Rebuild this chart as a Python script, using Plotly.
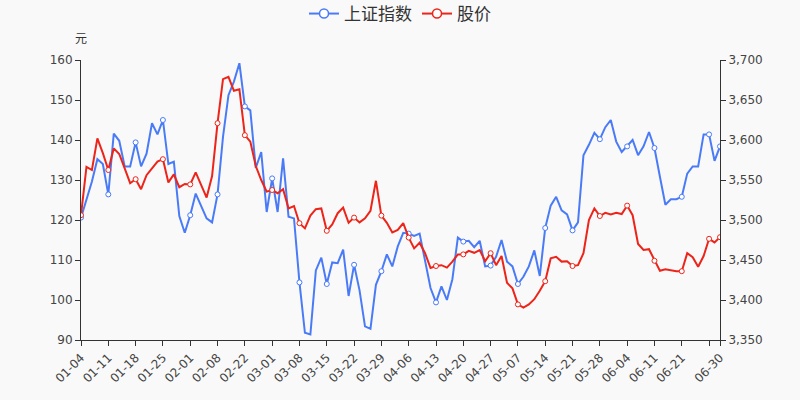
import plotly.graph_objects as go

dates = [
    "01-04","01-05","01-06","01-07","01-08","01-11","01-12","01-13","01-14","01-15",
    "01-18","01-19","01-20","01-21","01-22","01-25","01-26","01-27","01-28","01-29",
    "02-01","02-02","02-03","02-04","02-05","02-08","02-09","02-10","02-18","02-19",
    "02-22","02-23","02-24","02-25","02-26","03-01","03-02","03-03","03-04","03-05",
    "03-08","03-09","03-10","03-11","03-12","03-15","03-16","03-17","03-18","03-19",
    "03-22","03-23","03-24","03-25","03-26","03-29","03-30","03-31","04-01","04-02",
    "04-06","04-07","04-08","04-09","04-12","04-13","04-14","04-15","04-16","04-19",
    "04-20","04-21","04-22","04-23","04-26","04-27","04-28","04-29","04-30","05-06",
    "05-07","05-10","05-11","05-12","05-13","05-14","05-17","05-18","05-19","05-20",
    "05-21","05-24","05-25","05-26","05-27","05-28","05-31","06-01","06-02","06-03",
    "06-04","06-07","06-08","06-09","06-10","06-11","06-15","06-16","06-17","06-18",
    "06-21","06-22","06-23","06-24","06-25","06-28","06-29","06-30",
]

stock_price = [
    121.2,133.3,132.5,140.4,136.7,132.5,137.9,136.5,132.9,129.2,
    130.2,127.7,131.2,132.9,134.6,135.2,129.4,131.4,128.2,129.0,
    128.9,131.9,128.7,125.6,131.0,144.2,155.2,155.8,152.3,152.7,
    141.2,139.6,133.5,130.0,127.1,127.5,126.7,127.7,122.9,123.5,
    119.2,117.9,121.1,122.7,122.9,117.3,118.9,121.7,123.1,119.3,
    120.6,119.4,120.4,122.3,129.8,121.1,119.3,116.9,117.5,119.2,
    115.6,112.9,114.3,111.7,108.0,108.5,108.7,108.1,109.6,111.4,
    111.4,112.3,111.8,112.5,109.7,111.7,108.7,111.0,104.3,102.9,
    98.9,98.1,98.9,100.2,102.3,104.7,110.4,110.8,109.6,109.7,
    108.5,108.7,111.7,120.0,122.9,121.0,121.8,121.4,121.8,121.5,
    123.6,121.2,114.0,112.5,112.7,109.8,107.3,107.7,107.5,107.2,
    107.2,111.7,110.7,108.3,111.0,115.3,114.4,115.7,
]

sh_index = [
    3503,3525,3548,3576,3570,3532,3608,3599,3567,3567,
    3597,3567,3583,3621,3607,3625,3570,3573,3505,3484,
    3506,3533,3518,3502,3497,3532,3604,3656,3673,3696,
    3642,3637,3565,3585,3510,3552,3510,3577,3504,3502,
    3422,3359,3357,3437,3453,3420,3447,3446,3463,3405,
    3444,3412,3367,3364,3419,3436,3457,3442,3467,3484,
    3483,3480,3483,3450,3415,3397,3417,3400,3426,3478,
    3473,3474,3466,3474,3442,3443,3454,3475,3448,3442,
    3420,3429,3442,3462,3430,3490,3518,3529,3512,3507,
    3487,3497,3581,3594,3609,3601,3616,3625,3598,3585,
    3592,3600,3581,3592,3610,3590,3554,3519,3526,3526,
    3529,3558,3567,3567,3607,3607,3574,3592,
]

tick_dates = ["01-04","01-11","01-18","01-25","02-01","02-08","02-22","03-01",
              "03-08","03-15","03-22","03-29","04-06","04-13","04-20","04-27",
              "05-07","05-14","05-21","05-28","06-04","06-11","06-21","06-28","06-30"]
tick_text = [d if d != "06-28" else "" for d in tick_dates]

series_names = ["上证指数", "股价"]
BLUE = "#4a7bf7"
RED = "#ec2419"
BG = "#f9f9f9"
AX = "#333333"

marker_idx = list(range(0, len(dates), 5)) + [len(dates) - 1]

fig = go.Figure()

# blue line on yaxis (right)
fig.add_trace(go.Scatter(x=dates, y=sh_index, mode="lines", yaxis="y",
                         line=dict(color=BLUE, width=2), showlegend=False,
                         hoverinfo="skip"))
fig.add_trace(go.Scatter(x=[dates[i] for i in marker_idx], y=[sh_index[i] for i in marker_idx],
                         mode="markers", yaxis="y", showlegend=False,
                         marker=dict(size=5, color="white", line=dict(color=BLUE, width=1))))
# red line on yaxis2 (left, drawn on top)
fig.add_trace(go.Scatter(x=dates, y=stock_price, mode="lines", yaxis="y2",
                         line=dict(color=RED, width=2), showlegend=False))
fig.add_trace(go.Scatter(x=[dates[i] for i in marker_idx], y=[stock_price[i] for i in marker_idx],
                         mode="markers", yaxis="y2", showlegend=False,
                         marker=dict(size=5, color="white", line=dict(color=RED, width=1))))
# legend entries
fig.add_trace(go.Scatter(x=[None], y=[None], mode="lines+markers", name=series_names[0], yaxis="y",
                         line=dict(color=BLUE, width=2),
                         marker=dict(size=9, color="white", line=dict(color=BLUE, width=1.5))))
fig.add_trace(go.Scatter(x=[None], y=[None], mode="lines+markers", name=series_names[1], yaxis="y2",
                         line=dict(color=RED, width=2),
                         marker=dict(size=9, color="white", line=dict(color=RED, width=1.5))))

tickfont = dict(family="DejaVu Sans", size=12, color="#444444")

fig.update_layout(
    width=800, height=400,
    margin=dict(l=81, r=80, t=60, b=60, autoexpand=False),
    paper_bgcolor=BG, plot_bgcolor=BG,
    font=dict(family="DejaVu Sans, Noto Sans CJK SC", color="#333333"),
    showlegend=True,
    legend=dict(orientation="h", x=0.5, xanchor="center", xref="container",
                y=1 - 14 / 400, yanchor="middle", yref="container",
                font=dict(family="Noto Sans CJK SC", size=17, color="#333333"),
                bgcolor="rgba(0,0,0,0)", itemwidth=30, traceorder="normal"),
    xaxis=dict(type="category", categoryorder="array", categoryarray=dates,
               range=[0, len(dates) - 1],
               tickmode="array", tickvals=tick_dates, ticktext=tick_text,
               tickangle=-45, ticks="outside", ticklen=5, tickcolor=AX,
               showline=True, linecolor=AX, linewidth=1, showgrid=False,
               zeroline=False, tickfont=tickfont, automargin=False),
    yaxis=dict(side="right", range=[3350, 3700], dtick=50, tick0=3350,
               tickformat=",", ticks="outside", ticklen=5, tickcolor=AX,
               showline=True, linecolor=AX, linewidth=1, showgrid=False,
               zeroline=False, tickfont=tickfont, automargin=False),
    yaxis2=dict(side="left", overlaying="y", range=[90, 160], dtick=10, tick0=90,
                ticks="outside", ticklen=5, tickcolor=AX,
                showline=True, linecolor=AX, linewidth=1, showgrid=False,
                zeroline=False, tickfont=tickfont, automargin=False),
    annotations=[dict(text="元", xref="paper", yref="paper", x=0, y=1.0786,
                      xanchor="center", yanchor="middle", showarrow=False,
                      font=dict(family="Noto Sans CJK SC", size=12, color="#333333"))],
)

fig.write_html("out.html")
